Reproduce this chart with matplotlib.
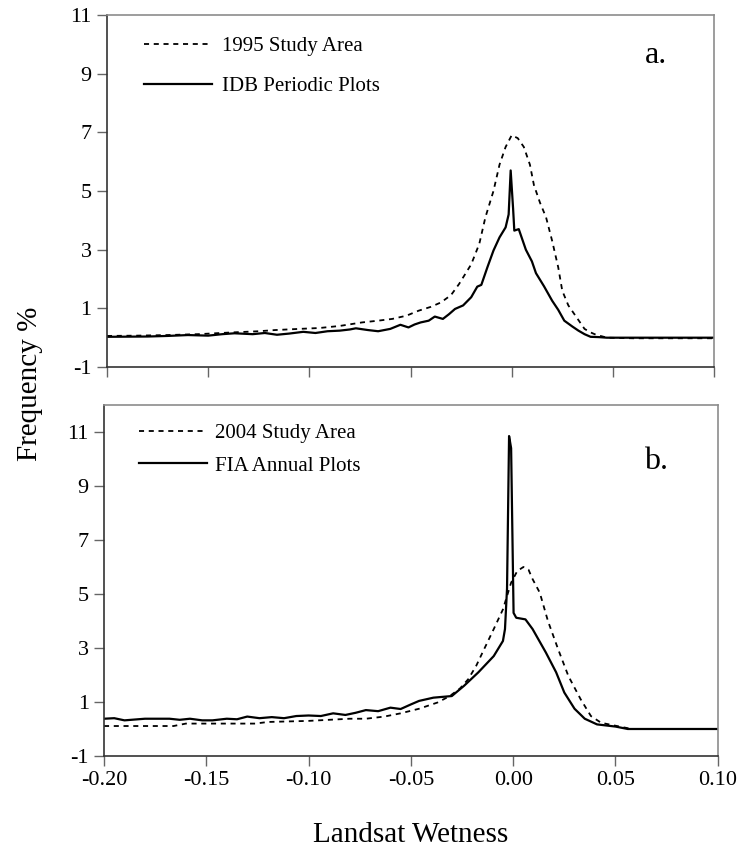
import matplotlib
matplotlib.use("Agg")
import matplotlib.pyplot as plt

plt.rcParams['font.family'] = ['Liberation Serif', 'DejaVu Serif']

# panel a: 1995 study area (dashed) and IDB periodic plots (solid)
x_a_area = [-0.200, -0.185, -0.170, -0.155, -0.138, -0.125, -0.117, -0.105, -0.095,
            -0.085, -0.074, -0.066, -0.059, -0.052, -0.046, -0.040, -0.035, -0.030,
            -0.026, -0.020, -0.016, -0.013, -0.009, -0.006, -0.003, 0.000, 0.003,
            0.006, 0.009, 0.011, 0.014, 0.017, 0.020, 0.023, 0.025, 0.028, 0.031,
            0.034, 0.036, 0.039, 0.042, 0.045, 0.047, 0.060, 0.080, 0.100]
y_a_area = [0.06, 0.07, 0.09, 0.12, 0.18, 0.22, 0.26, 0.30, 0.33,
            0.40, 0.52, 0.58, 0.64, 0.75, 0.92, 1.05, 1.20, 1.45,
            1.83, 2.50, 3.20, 4.10, 5.00, 5.90, 6.50, 6.90, 6.80,
            6.50, 5.90, 5.20, 4.60, 4.10, 3.30, 2.40, 1.60, 1.10, 0.80,
            0.50, 0.30, 0.18, 0.09, 0.04, 0.00, -0.02, -0.02, -0.02]

x_a_plots = [-0.200, -0.180, -0.170, -0.160, -0.150, -0.143, -0.137, -0.128, -0.122,
             -0.116, -0.110, -0.103, -0.097, -0.091, -0.085, -0.080, -0.077, -0.071,
             -0.066, -0.060, -0.055, -0.051, -0.048, -0.045, -0.041, -0.038, -0.034,
             -0.031, -0.028, -0.024, -0.020, -0.017, -0.015, -0.012, -0.009, -0.006,
             -0.003, -0.0015, -0.0005, 0.0007, 0.0013, 0.0035, 0.007, 0.010, 0.012,
             0.016, 0.020, 0.023, 0.026, 0.030, 0.033, 0.036, 0.039, 0.043, 0.047,
             0.060, 0.080, 0.100]
y_a_plots = [0.03, 0.04, 0.06, 0.09, 0.07, 0.12, 0.15, 0.12, 0.16,
             0.10, 0.14, 0.20, 0.16, 0.22, 0.24, 0.28, 0.32, 0.26,
             0.22, 0.30, 0.44, 0.35, 0.45, 0.52, 0.58, 0.72, 0.64,
             0.80, 0.98, 1.10, 1.38, 1.74, 1.80, 2.40, 2.97, 3.42,
             3.76, 4.20, 5.70, 4.40, 3.65, 3.70, 3.00, 2.60, 2.20,
             1.75, 1.26, 0.95, 0.58, 0.38, 0.24, 0.12, 0.03, 0.02, 0.00,
             0.00, 0.00, 0.00]

# panel b: 2004 study area (dashed) and FIA annual plots (solid)
x_b_area = [-0.200, -0.166, -0.160, -0.126, -0.120, -0.100, -0.090, -0.080, -0.072,
            -0.063, -0.055, -0.046, -0.037, -0.031, -0.026, -0.022, -0.018, -0.015,
            -0.0095, -0.005, -0.001, 0.002, 0.005, 0.0075, 0.0095, 0.013, 0.017,
            0.022, 0.027, 0.033, 0.038, 0.043, 0.052, 0.058, 0.080, 0.100]
y_b_area = [0.11, 0.11, 0.20, 0.20, 0.26, 0.30, 0.34, 0.38, 0.38,
            0.46, 0.58, 0.75, 0.98, 1.22, 1.50, 1.84, 2.35, 2.83,
            3.70, 4.43, 5.42, 5.85, 6.00, 5.90, 5.55, 5.05, 4.00,
            2.95, 1.96, 1.10, 0.48, 0.23, 0.09, 0.00, 0.00, 0.00]

x_b_plots = [-0.200, -0.195, -0.190, -0.180, -0.168, -0.163, -0.158, -0.152, -0.147,
             -0.140, -0.135, -0.130, -0.124, -0.118, -0.112, -0.106, -0.100, -0.094,
             -0.088, -0.082, -0.077, -0.072, -0.066, -0.060, -0.055, -0.050, -0.046,
             -0.039, -0.030, -0.024, -0.017, -0.0095, -0.005, -0.004, -0.003, -0.002,
             -0.001, 0.0002, 0.0015, 0.006, 0.0095, 0.016, 0.021, 0.025, 0.030,
             0.035, 0.041, 0.050, 0.056, 0.080, 0.100]
y_b_plots = [0.38, 0.40, 0.32, 0.38, 0.38, 0.34, 0.38, 0.32, 0.32,
             0.38, 0.36, 0.46, 0.40, 0.44, 0.40, 0.48, 0.50, 0.48,
             0.58, 0.52, 0.60, 0.70, 0.66, 0.79, 0.74, 0.91, 1.04,
             1.16, 1.22, 1.60, 2.10, 2.70, 3.26, 3.70, 5.20, 10.85,
             10.40, 4.30, 4.12, 4.06, 3.70, 2.83, 2.10, 1.35, 0.75,
             0.38, 0.17, 0.09, 0.00, 0.00, 0.00]

y_ticks = [-1, 1, 3, 5, 7, 9, 11]
x_ticks = [-0.20, -0.15, -0.10, -0.05, 0.00, 0.05, 0.10]
x_tick_labels = ['-0.20', '-0.15', '-0.10', '-0.05', '0.00', '0.05', '0.10']

fig = plt.figure(figsize=(7.43, 8.63), dpi=100)
ax_a = fig.add_axes([0.144, 0.5747, 0.817, 0.408])
ax_b = fig.add_axes([0.140, 0.124, 0.826, 0.4067])


def style(ax, ymax, show_xlabels):
    ax.set_xlim(-0.20, 0.10)
    ax.set_ylim(-1, ymax)
    ax.set_yticks(y_ticks)
    ax.set_yticklabels([str(v) for v in y_ticks])
    ax.set_xticks(x_ticks)
    if show_xlabels:
        ax.set_xticklabels(x_tick_labels)
    else:
        ax.set_xticklabels([])
    for side in ['top', 'right']:
        ax.spines[side].set_color('#8c8c8c')
        ax.spines[side].set_linewidth(1.2)
    for side in ['left', 'bottom']:
        ax.spines[side].set_color('#333333')
        ax.spines[side].set_linewidth(1.2)
    ax.tick_params(axis='both', direction='out', length=7, width=1.0,
                   color='#666666', labelsize=16, pad=4)


dash = (0, (2.8, 2.6))

ax_a.plot(x_a_area, y_a_area, color='black', lw=1.3, linestyle=dash,
          label='1995 Study Area')
ax_a.plot(x_a_plots, y_a_plots, color='black', lw=1.6, label='IDB Periodic Plots')
style(ax_a, 11, False)
ax_a.legend(loc='upper left', bbox_to_anchor=(0.061, 0.9395), frameon=False,
            fontsize=15, handlelength=3.27, handletextpad=0.48, labelspacing=1.01,
            borderpad=0, borderaxespad=0)
ax_a.text(0.904, 0.884, 'a.', transform=ax_a.transAxes, fontsize=23,
          ha='center', va='center')

ax_b.plot(x_b_area, y_b_area, color='black', lw=1.3, linestyle=dash,
          label='2004 Study Area')
ax_b.plot(x_b_plots, y_b_plots, color='black', lw=1.6, label='FIA Annual Plots')
style(ax_b, 12, True)
ax_b.legend(loc='upper left', bbox_to_anchor=(0.057, 0.9475), frameon=False,
            fontsize=15, handlelength=3.27, handletextpad=0.4, labelspacing=0.63,
            borderpad=0, borderaxespad=0)
ax_b.text(0.899, 0.838, 'b.', transform=ax_b.transAxes, fontsize=23,
          ha='center', va='center')

fig.text(0.040, 0.555, 'Frequency %', rotation=90, fontsize=21,
         ha='center', va='center')
fig.text(0.552, 0.032, 'Landsat Wetness', fontsize=21, ha='center', va='center')

fig.savefig('out.png', dpi=100)
